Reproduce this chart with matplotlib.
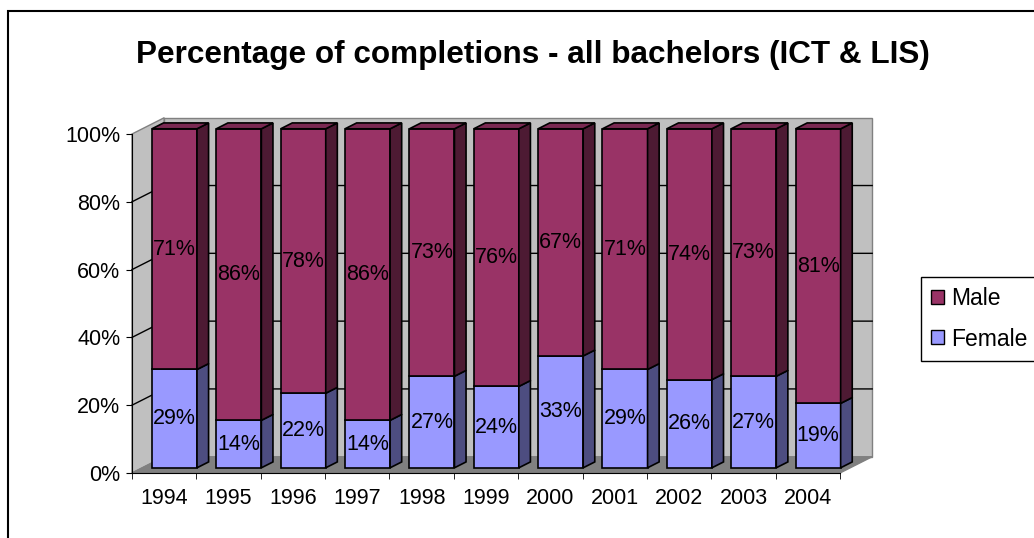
import matplotlib.pyplot as plt
from matplotlib.patches import Polygon, Patch, Rectangle
from matplotlib.ticker import PercentFormatter

years = ["1994", "1995", "1996", "1997", "1998", "1999",
         "2000", "2001", "2002", "2003", "2004"]
female = [29, 14, 22, 14, 27, 24, 33, 29, 26, 27, 19]
male = [71, 86, 78, 86, 73, 76, 67, 71, 74, 73, 81]

W, H = 1034, 538
plt.rcParams['font.family'] = ['Liberation Sans', 'DejaVu Sans']

fig = plt.figure(figsize=(W / 100, H / 100), dpi=100)
ax = fig.add_axes([132 / W, 65 / H, 708 / W, 339 / H])
n = len(years)
ax.set_xlim(0, n)
ax.set_ylim(0, 100)
ax.patch.set_visible(False)

# oblique depth of the 3d box (data units)
DX, DY = 0.5, 4.8
FRONT, BACK = 0.32, 0.68


def poly(pts, fc, ec="black", lw=1.2, z=1):
    ax.add_patch(Polygon(pts, closed=True, facecolor=fc, edgecolor=ec,
                         linewidth=lw, clip_on=False, zorder=z))


# walls and floor
poly([(0, 0), (DX, DY), (DX, 100 + DY), (0, 100)], "#c0c0c0", "#808080", 1, 0.5)
poly([(DX, DY), (n + DX, DY), (n + DX, 100 + DY), (DX, 100 + DY)], "#c0c0c0", "#808080", 1, 0.5)
poly([(0, 0), (n, 0), (n + DX, DY), (DX, DY)], "#808080", "#808080", 1, 0.5)
for v in [20, 40, 60, 80]:
    ax.plot([0, DX, n + DX], [v, v + DY, v + DY], color="black", lw=1,
            clip_on=False, zorder=0.6)

fx, fy = FRONT * DX, FRONT * DY
bx, by = BACK * DX, BACK * DY
series = [(female, "#9999ff", "#4d4d80", "#7a7acc"),
          (male, "#993366", "#4d1a33", "#7a2952")]
for i in range(n):
    L, R = i + 0.15, i + 0.85
    base = 0
    for k, (vals, front, side, top) in enumerate(series):
        b, t = base, base + vals[i]
        poly([(L + fx, b + fy), (R + fx, b + fy), (R + fx, t + fy), (L + fx, t + fy)], front, z=2)
        poly([(R + fx, b + fy), (R + bx, b + by), (R + bx, t + by), (R + fx, t + fy)], side, z=2)
        if k == len(series) - 1:
            poly([(L + fx, t + fy), (R + fx, t + fy), (R + bx, t + by), (L + bx, t + by)], top, z=2)
        ax.text(i + 0.5 + fx, (b + t) / 2 + fy, f"{vals[i]}%", ha="center",
                va="center", fontsize=15.5, zorder=3)
        base = t

for s in ["top", "right"]:
    ax.spines[s].set_visible(False)
for s in ["left", "bottom"]:
    ax.spines[s].set_zorder(4)
ax.set_yticks(range(0, 101, 20))
ax.yaxis.set_major_formatter(PercentFormatter(100, decimals=0))
ax.tick_params(axis="y", length=4.3, pad=4, labelsize=15.5)
ax.set_xticks([i + 0.5 for i in range(n)])
ax.set_xticklabels(years)
ax.set_xticks(range(n + 1), minor=True)
ax.tick_params(axis="x", which="major", length=0, pad=11, labelsize=15.5)
ax.tick_params(axis="x", which="minor", length=4)

fig.text(533 / W, 1 - 55 / H, "Percentage of completions - all bachelors (ICT & LIS)",
         ha="center", va="center", fontsize=22.7, fontweight="bold")

handles = [Patch(facecolor="#993366", edgecolor="black", label="Male"),
           Patch(facecolor="#9999ff", edgecolor="black", label="Female")]
leg = fig.legend(handles=handles, loc="upper left",
                 bbox_to_anchor=(921 / W, 1 - 277 / H), borderaxespad=0,
                 prop={"size": 16.5}, handlelength=0.55, handleheight=0.55,
                 handletextpad=0.3, labelspacing=0.75, borderpad=0.45,
                 fancybox=False, edgecolor="black", framealpha=1)
leg.get_frame().set_linewidth(1)
for txt in leg.get_texts():
    txt.set_fontstretch("expanded")

fig.add_artist(Rectangle((8 / W, -0.1), 1.2, 1 - 11 / H + 0.1, transform=fig.transFigure,
                         fill=False, edgecolor="black", linewidth=1.5))

fig.savefig("out.png", dpi=100)
